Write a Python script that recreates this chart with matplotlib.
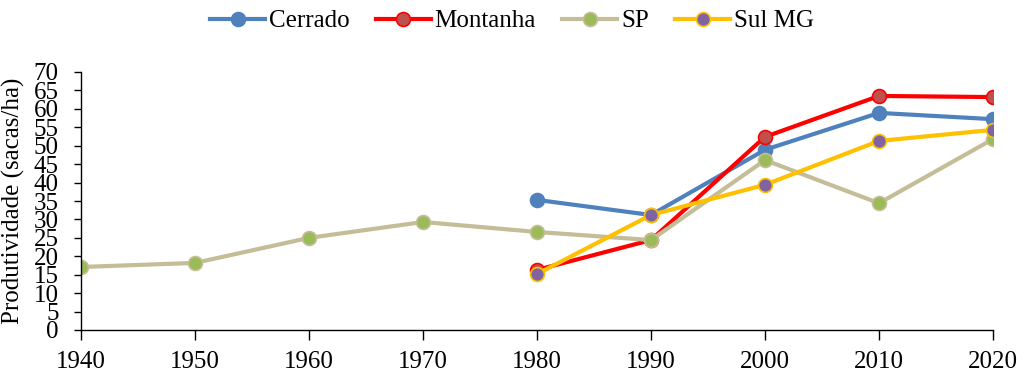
import matplotlib.pyplot as plt
from matplotlib import font_manager

# Times-like font: Liberation Serif if present, else STIX (ships with matplotlib)
nomes = {f.name for f in font_manager.fontManager.ttflist}
serif = [n for n in ['Liberation Serif', 'Times New Roman', 'STIXGeneral'] if n in nomes]
plt.rcParams['font.family'] = serif + ['DejaVu Serif']

anos = [1940, 1950, 1960, 1970, 1980, 1990, 2000, 2010, 2020]
anos_rec = [1980, 1990, 2000, 2010, 2020]

cerrado = [35.3, 31.2, 48.9, 58.9, 57.2]
montanha = [16.3, 24.4, 52.4, 63.5, 63.2]
sp = [17.1, 18.2, 25.0, 29.3, 26.6, 24.4, 46.1, 34.4, 51.8]
sul_mg = [15.2, 31.2, 39.4, 51.3, 54.3]

fig = plt.figure(figsize=(10.24, 3.77), dpi=100)
ax = fig.add_axes([81/1024, 47/377, 912/1024, 258/377])

kw = dict(lw=3, marker='o', ms=10, mew=1.2)
ax.plot(anos_rec, cerrado, color='#4F81BD', mfc='#4F81BD', mec='#4F81BD', label='Cerrado', **kw)
ax.plot(anos_rec, montanha, color='#FF0000', mfc='#C0504D', mec='#FF0000', label='Montanha', **kw)
ax.plot(anos, sp, color='#C4BD97', mfc='#9BBB59', mec='#C4BD97', label='SP', **kw)
ax.plot(anos_rec, sul_mg, color='#FFC000', mfc='#8064A2', mec='#FFC000', label='Sul MG', **kw)

ax.set_xlim(1940, 2020)
ax.set_ylim(0, 70)
ax.set_xticks(anos)
ax.set_yticks(range(0, 71, 5))
ax.tick_params(axis='both', labelsize=18, direction='out', width=1, color='black')
ax.tick_params(axis='x', length=7, pad=8)
ax.tick_params(axis='y', length=5, pad=11)
ax.set_ylabel('Produtividade (sacas/ha)', fontsize=18, va='center')
ax.yaxis.set_label_coords(-0.074, 0.5)
for s in ['top', 'right']:
    ax.spines[s].set_visible(False)
for s in ['left', 'bottom']:
    ax.spines[s].set_linewidth(1)

fig.legend(loc='center', bbox_to_anchor=(0.5, 1 - 21/377), ncol=4, frameon=False,
           fontsize=18, handlelength=2.2, columnspacing=1.05, handletextpad=0.15)

fig.savefig('out.png', dpi=100)
